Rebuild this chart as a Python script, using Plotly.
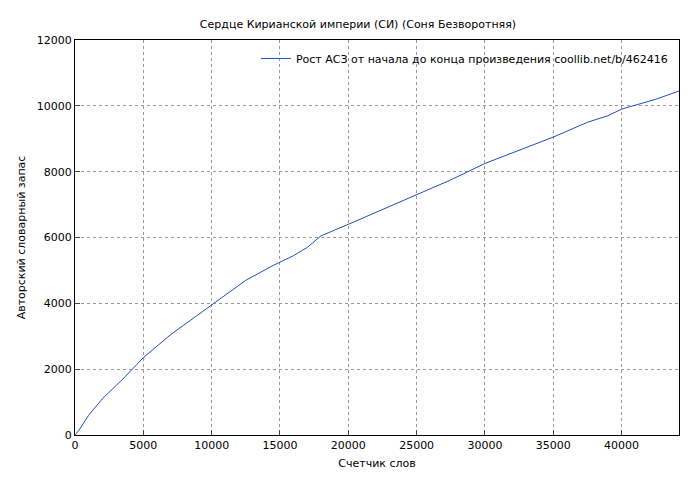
import plotly.graph_objects as go

words = [0, 300, 1000, 2000, 3500, 5000, 7000, 8500, 10000, 11000, 12500, 14500, 16000,
         17000, 18000, 20000, 22500, 25000, 26500, 27500, 30000, 32500, 35000,
         37500, 39000, 40000, 42500, 44200]
vocab = [0, 150, 600, 1100, 1700, 2350, 3050, 3500, 3950, 4250, 4700, 5150, 5450,
         5700, 6050, 6400, 6850, 7300, 7550, 7750, 8250, 8650, 9050,
         9500, 9700, 9900, 10200, 10450]

fig = go.Figure(go.Scatter(x=words, y=vocab, mode="lines",
                           line=dict(color="#1f4fbf", width=1),
                           name="Рост АСЗ от начала до конца произведения coollib.net/b/462416"))

ax = dict(showline=True, linecolor="black", mirror=True, ticks="inside", ticklen=5,
          gridcolor="#999", griddash="dot", zeroline=False, tickformat="d",
          automargin=False, tickfont=dict(size=11, color="black"))
fig.update_layout(
    width=700, height=480, paper_bgcolor="white", plot_bgcolor="white",
    font=dict(family="DejaVu Sans", size=11, color="black"),
    title=dict(text="Сердце Кирианской империи (СИ) (Соня Безворотняя)", x=0.5, y=0.975,
               font=dict(size=11)),
    margin=dict(l=67, r=29, t=32, b=53),
    xaxis=dict(ax, range=[0, 44200], dtick=5000,
               title=dict(text="Счетчик слов", standoff=8, font=dict(size=11))),
    yaxis=dict(ax, range=[0, 12000], dtick=2000,
               title=dict(text="Авторский словарный запас", standoff=8, font=dict(size=11))),
    legend=dict(x=0.99, y=0.99, xanchor="right", yanchor="top", bgcolor="rgba(0,0,0,0)",
                font=dict(size=11)),
    showlegend=True,
)
fig.write_html("out.html")
